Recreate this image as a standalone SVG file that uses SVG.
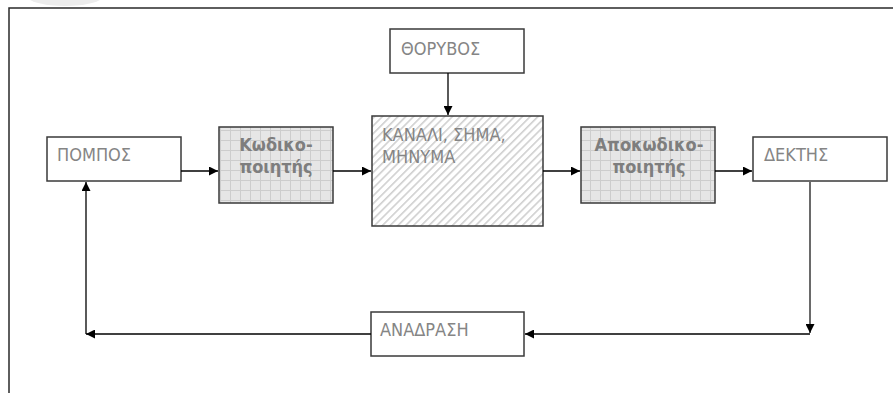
<svg xmlns="http://www.w3.org/2000/svg" width="893" height="393" viewBox="0 0 893 393">
<defs>
<pattern id="grid" width="10" height="10" patternUnits="userSpaceOnUse">
<rect width="10" height="10" fill="#e6e6e6"/>
<path d="M0 0.5H10M0.5 0V10" stroke="#cdcdcd" stroke-width="1" fill="none"/>
</pattern>
<pattern id="hatch" width="5.5" height="5.5" patternUnits="userSpaceOnUse" patternTransform="rotate(45)">
<rect width="5.5" height="5.5" fill="#ffffff"/>
<rect width="1.6" height="5.5" fill="#cfcfcf"/>
</pattern>
<marker id="ah" viewBox="0 0 10 10" refX="10" refY="5" markerWidth="9" markerHeight="9" markerUnits="userSpaceOnUse" orient="auto">
<path d="M0 0L10 5L0 10Z" fill="#000"/>
</marker>
</defs>
<style>
.box{fill:#fff;stroke:#3a3a3a;stroke-width:1.5}
.t{font-family:"DejaVu Sans Condensed","DejaVu Sans","Liberation Sans",sans-serif;font-stretch:condensed;font-size:18px;fill:#858585}
.b{font-family:"DejaVu Sans Condensed","DejaVu Sans","Liberation Sans",sans-serif;font-stretch:condensed;font-size:18px;font-weight:bold;fill:#7e7e7e;text-anchor:middle}
.c{stroke:#000;stroke-width:1.3;fill:none}
</style>
<rect width="893" height="393" fill="#fff"/>
<ellipse cx="65" cy="-4" rx="38" ry="10" fill="#ececec"/>
<path d="M9 393V8H893" fill="none" stroke="#2a2a2a" stroke-width="1.5"/>
<g id="noise">
<rect class="box" x="390" y="29" width="134" height="44"/>
<text class="t" x="401" y="55">ΘΟΡΥΒΟΣ</text>
</g>
<g id="transmitter">
<rect class="box" x="47" y="137" width="134" height="44"/>
<text class="t" x="57" y="161">ΠΟΜΠΟΣ</text>
</g>
<g id="encoder">
<rect class="box" x="219" y="127" width="114" height="76" style="fill:url(#grid)"/>
<text class="b" x="276" y="151">Κωδικο-</text>
<text class="b" x="276" y="173">ποιητής</text>
</g>
<g id="channel">
<rect class="box" x="372" y="116" width="171" height="110" style="fill:url(#hatch)"/>
<text class="t" x="382" y="141">ΚΑΝΑΛΙ, ΣΗΜΑ,</text>
<text class="t" x="382" y="163">ΜΗΝΥΜΑ</text>
</g>
<g id="decoder">
<rect class="box" x="581" y="127" width="134" height="76" style="fill:url(#grid)"/>
<text class="b" x="649" y="151">Αποκωδικο-</text>
<text class="b" x="649" y="173">ποιητής</text>
</g>
<g id="receiver">
<rect class="box" x="753" y="137" width="134" height="44"/>
<text class="t" x="764" y="161">ΔΕΚΤΗΣ</text>
</g>
<g id="feedback">
<rect class="box" x="371" y="312" width="153" height="44"/>
<text class="t" x="380" y="336">ΑΝΑΔΡΑΣΗ</text>
</g>
<g id="connectors">
<path class="c" d="M181 171H218" marker-end="url(#ah)"/>
<path class="c" d="M333 171H371" marker-end="url(#ah)"/>
<path class="c" d="M543 171H580" marker-end="url(#ah)"/>
<path class="c" d="M715 171H752" marker-end="url(#ah)"/>
<path class="c" d="M448 73V115" marker-end="url(#ah)"/>
<path d="M810 181V333" stroke="#6a6a6a" stroke-width="2" fill="none" marker-end="url(#ah)"/>
<path class="c" d="M810 334H525" marker-end="url(#ah)"/>
<path class="c" d="M371 334H86" marker-end="url(#ah)"/>
<path class="c" d="M86 334V182" marker-end="url(#ah)"/>
</g>
</svg>
